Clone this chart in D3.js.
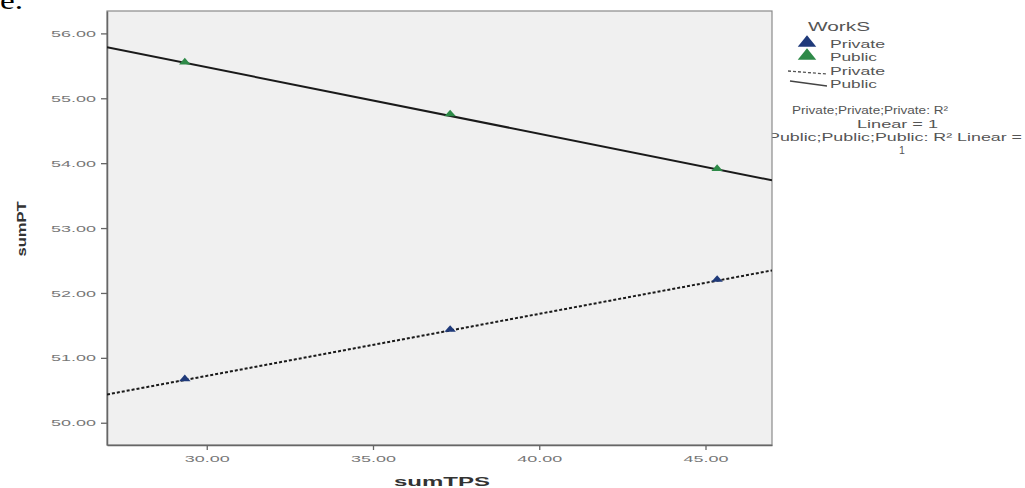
<!DOCTYPE html>
<html>
<head>
<meta charset="utf-8">
<script src="https://cdn.jsdelivr.net/npm/d3@7"></script>
<style>
  html, body { margin: 0; padding: 0; background: #fff; }
  svg { display: block; }
  text { font-family: "Liberation Sans", Arial, sans-serif; }
</style>
</head>
<body>
<svg id="chart" width="1025" height="488"></svg>
<script>
// ---- data ----
const groups = ["Private", "Public"];
const privateX = [29.34, 37.32, 45.35];
const privateY = [50.66, 51.42, 52.19];
const publicX = [29.34, 37.32, 45.35];
const publicY = [55.54, 54.74, 53.90];
const xTicks = [30, 35, 40, 45];
const yTicks = [50, 51, 52, 53, 54, 55, 56];
const xLabel = "sumTPS";
const yLabel = "sumPT";
const legendTitle = "WorkS";
const fitNotes = ["Private;Private;Private: R²", "Linear = 1", "Public;Public;Public: R² Linear =", "1"];

const colors = { Private: "#1f3a7a", Public: "#2e8a48" };

(function () {
const svg = d3.select("#chart");
const pL = 107, pR = 772, pT = 11, pB = 445;
const x = d3.scaleLinear().domain([27, 47]).range([pL, pR]);
const y = d3.scaleLinear().domain([49.657, 56.345]).range([pB, pT]);

// stray text from source document
svg.append("text").attr("x", 0).attr("y", 8.5)
  .style("font-family", "'Liberation Serif', serif").style("font-size", "25px")
  .attr("textLength", 23).attr("lengthAdjust", "spacingAndGlyphs")
  .attr("fill", "#000").text("e.");

// ---- legend (drawn before plot so plot border overlaps the note) ----
const lg = svg.append("g");
lg.append("text").attr("x", 808).attr("y", 31).attr("font-size", 13).attr("fill", "#555")
  .attr("textLength", 62).attr("lengthAdjust", "spacingAndGlyphs").text(legendTitle);
const legRows = [
  { kind: "marker", g: "Private", y: 48 },
  { kind: "marker", g: "Public", y: 61 },
  { kind: "line", g: "Private", y: 75 },
  { kind: "line", g: "Public", y: 88 }
];
legRows.forEach(r => {
  if (r.kind === "marker") {
    lg.append("path").attr("d", d3.symbol().type(d3.symbolTriangle).size(95)())
      .attr("transform", `translate(807,${r.y - 5}) scale(1.25,0.9)`)
      .attr("fill", colors[r.g]);
  } else if (r.g === "Private") {
    lg.append("line").attr("x1", 788).attr("y1", r.y - 4).attr("x2", 827).attr("y2", r.y - 1)
      .attr("stroke", "#555").attr("stroke-width", 1.3).attr("stroke-dasharray", "3,2");
  } else {
    lg.append("line").attr("x1", 790).attr("y1", r.y - 7).attr("x2", 827).attr("y2", r.y - 2)
      .attr("stroke", "#444").attr("stroke-width", 1.3);
  }
  lg.append("text").attr("x", 830).attr("y", r.y).attr("font-size", 11).attr("fill", "#555")
    .attr("textLength", r.g === "Private" ? 55 : 47).attr("lengthAdjust", "spacingAndGlyphs").text(r.g);
});
const notePos = [[792, 114, 156], [857, 128, 81], [768, 141, 254], [899, 154, 6]];
fitNotes.forEach((t, i) => {
  const tt = lg.append("text").attr("x", notePos[i][0]).attr("y", notePos[i][1])
    .attr("font-size", 10.5).attr("fill", "#555").text(t);
  if (t.length > 1) tt.attr("textLength", notePos[i][2]).attr("lengthAdjust", "spacingAndGlyphs");
});

// ---- plot area ----
svg.append("rect").attr("x", pL).attr("y", pT).attr("width", pR - pL).attr("height", pB - pT)
  .attr("fill", "#f0f0f0").attr("stroke", "#8a8a8a").attr("stroke-width", 1.2);

// axes
const yAxis = d3.axisLeft(y).tickValues(yTicks).tickFormat(d3.format(".2f")).tickSizeInner(6).tickSizeOuter(0);
const gy = svg.append("g").attr("transform", `translate(${pL},0)`).call(yAxis);
const xAxis = d3.axisBottom(x).tickValues(xTicks).tickFormat(d3.format(".2f")).tickSizeInner(5).tickSizeOuter(0);
const gx = svg.append("g").attr("transform", `translate(0,${pB})`).call(xAxis);
[gx, gy].forEach(g => {
  g.select(".domain").attr("stroke", "#666").attr("stroke-width", 1.5);
  g.selectAll(".tick line").attr("stroke", "#666").attr("stroke-width", 1.3);
  g.selectAll(".tick text").attr("fill", "#777").attr("font-size", 9.5)
    .style("font-family", "'Liberation Sans', Arial, sans-serif")
    .attr("textLength", 45).attr("lengthAdjust", "spacingAndGlyphs");
});
gy.selectAll(".tick text").attr("x", -11);
gx.selectAll(".tick text").attr("y", 10);

// axis titles
svg.append("text").attr("x", 442).attr("y", 486).attr("text-anchor", "middle")
  .attr("font-size", 13).attr("font-weight", "bold").attr("fill", "#333")
  .attr("textLength", 96).attr("lengthAdjust", "spacingAndGlyphs").text(xLabel);
svg.append("text").attr("transform", "translate(26,229) rotate(-90)").attr("text-anchor", "middle")
  .attr("font-size", 12).attr("font-weight", "bold").attr("fill", "#333")
  .attr("textLength", 55).attr("lengthAdjust", "spacingAndGlyphs").text(yLabel);

// ---- fit lines ----
svg.append("clipPath").attr("id", "clip").append("rect")
  .attr("x", pL).attr("y", pT).attr("width", pR - pL).attr("height", pB - pT);
function fit(xs, ys) {
  const mx = d3.mean(xs), my = d3.mean(ys);
  const b = d3.sum(xs, (v, i) => (v - mx) * (ys[i] - my)) / d3.sum(xs, v => (v - mx) * (v - mx));
  return v => my + b * (v - mx);
}
const series = [
  { g: "Private", xs: privateX, ys: privateY, dash: "3,2" },
  { g: "Public", xs: publicX, ys: publicY, dash: null }
];
const plot = svg.append("g").attr("clip-path", "url(#clip)");
series.forEach(s => {
  const f = fit(s.xs, s.ys);
  const dom = x.domain();
  plot.append("line").attr("x1", x(dom[0])).attr("y1", y(f(dom[0])))
    .attr("x2", x(dom[1])).attr("y2", y(f(dom[1])))
    .attr("stroke", "#1a1a1a").attr("stroke-width", 2)
    .attr("stroke-dasharray", s.dash);
});
series.forEach(s => {
  plot.selectAll(null).data(s.xs.map((v, i) => [v, s.ys[i]])).enter().append("path")
    .attr("d", d3.symbol().type(d3.symbolTriangle).size(40)())
    .attr("transform", d => `translate(${x(d[0])},${y(d[1]) - 1}) scale(1.2,0.8)`)
    .attr("fill", colors[s.g]);
});
})();
</script>
</body>
</html>
